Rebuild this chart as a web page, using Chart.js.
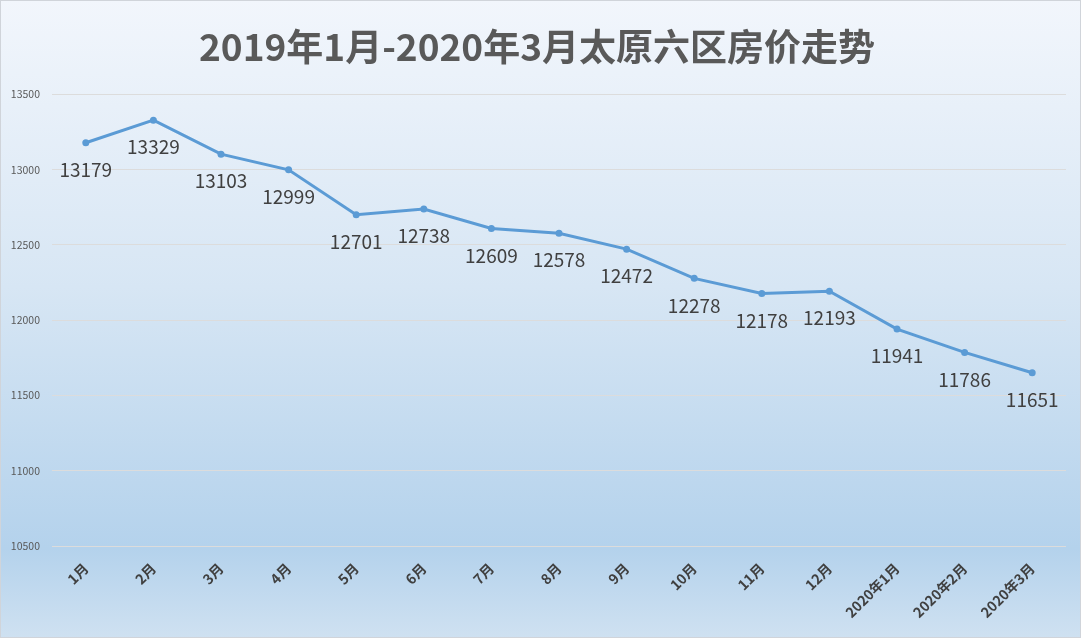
<!DOCTYPE html>
<html>
<head>
<meta charset="utf-8">
<script src="https://cdn.jsdelivr.net/npm/chart.js@4.4.0/dist/chart.umd.min.js"></script>
<style>
  html, body { margin: 0; padding: 0; background: #fff; }
  #wrap { width: 1081px; height: 638px; position: relative; }
</style>
</head>
<body>
<div id="wrap"><canvas id="lineChart"></canvas></div>
<script>
const months = ['1月', '2月', '3月', '4月', '5月', '6月', '7月', '8月', '9月', '10月', '11月', '12月', '2020年1月', '2020年2月', '2020年3月'];
const prices = [13179, 13329, 13103, 12999, 12701, 12738, 12609, 12578, 12472, 12278, 12178, 12193, 11941, 11786, 11651];
const yTicks = [10500, 11000, 11500, 12000, 12500, 13000, 13500];

const cjk = '"Microsoft YaHei", "Noto Sans CJK SC", sans-serif';

// gradient background + thin frame
const background = {
  id: 'background',
  beforeDraw(chart) {
    const c = chart.ctx;
    const h = chart.height, w = chart.width;
    const g = c.createLinearGradient(0, 0, 0, h);
    g.addColorStop(0, '#f2f6fc');
    g.addColorStop(0.45, '#d7e6f4');
    g.addColorStop(0.86, '#b4d2ec');
    g.addColorStop(1, '#cfe1f1');
    c.save();
    c.fillStyle = g;
    c.fillRect(0, 0, w, h);
    c.strokeStyle = '#d0d4da';
    c.lineWidth = 1;
    c.strokeRect(0.5, 0.5, w - 1, h - 1);
    c.restore();
  }
};

// value labels under each point
const valueLabels = {
  id: 'valueLabels',
  afterDatasetsDraw(chart) {
    const c = chart.ctx;
    const meta = chart.getDatasetMeta(0);
    c.save();
    c.font = '19px ' + cjk;
    c.fillStyle = '#404040';
    c.textAlign = 'center';
    c.textBaseline = 'middle';
    meta.data.forEach((pt, i) => {
      c.fillText(String(prices[i]), pt.x, pt.y + 27);
    });
    c.restore();
  }
};

const ctx = document.getElementById('lineChart').getContext('2d');

new Chart(ctx, {
  type: 'line',
  data: {
    labels: months,
    datasets: [{
      label: '房价',
      data: prices,
      borderColor: '#5b9bd5',
      backgroundColor: '#5b9bd5',
      borderWidth: 3,
      pointRadius: 3.5,
      pointHoverRadius: 3.5,
      pointBackgroundColor: '#5b9bd5',
      pointBorderWidth: 0,
      tension: 0,
      fill: false
    }]
  },
  options: {
    responsive: true,
    maintainAspectRatio: false,
    animation: false,
    layout: { padding: { left: 8, right: 15, top: 0, bottom: 0 } },
    plugins: {
      legend: { display: false },
      tooltip: { enabled: false },
      title: {
        display: true,
        text: '2019年1月-2020年3月太原六区房价走势',
        color: '#595959',
        font: { family: cjk, size: 37, weight: 'bold', lineHeight: 1.2 },
        padding: { top: 25, bottom: 25 }
      }
    },
    scales: {
      x: {
        offset: true,
        grid: { display: false, drawTicks: false },
        border: { display: false },
        ticks: {
          color: '#404040',
          font: { family: cjk, size: 14, weight: 'bold' },
          minRotation: 45,
          maxRotation: 45,
          padding: 14,
          autoSkip: false
        },
        afterFit(scale) { scale.height = 92; }
      },
      y: {
        min: 10500,
        max: 13500,
        afterBuildTicks(scale) { scale.ticks = yTicks.map(v => ({ value: v })); },
        grid: { color: '#dcdcdc', lineWidth: 1, drawTicks: false },
        border: { display: false },
        ticks: {
          color: '#595959',
          font: { family: cjk, size: 10.5 },
          padding: 12,
          callback: v => String(v)
        },
        afterFit(scale) { scale.width = 44; }
      }
    }
  },
  plugins: [background, valueLabels]
});
</script>
</body>
</html>
